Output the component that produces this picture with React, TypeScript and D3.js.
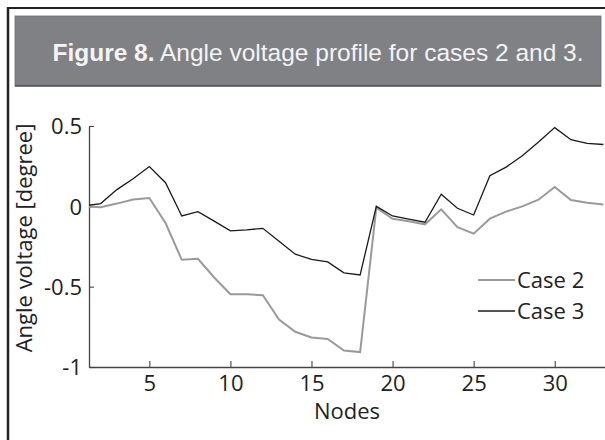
import React, { useEffect, useRef } from 'react';
import * as d3 from 'd3';

const nodes = d3.range(1, 34);
const case2 = [0, -0.005, 0.017, 0.043, 0.052, -0.104, -0.333, -0.327, -0.443, -0.547, -0.547, -0.553, -0.704, -0.781, -0.816, -0.826, -0.897, -0.907, -0.008, -0.077, -0.093, -0.112, -0.019, -0.13, -0.17, -0.077, -0.033, 0.0, 0.041, 0.12, 0.039, 0.023, 0.012];
const case3 = [0.003, 0.017, 0.104, 0.172, 0.248, 0.147, -0.06, -0.033, -0.092, -0.153, -0.147, -0.137, -0.218, -0.298, -0.33, -0.346, -0.414, -0.427, 0.0, -0.06, -0.08, -0.099, 0.075, -0.012, -0.054, 0.191, 0.244, 0.315, 0.4, 0.49, 0.415, 0.392, 0.385];
const xTicks = [5, 10, 15, 20, 25, 30];
const yTicks = [-1, -0.5, 0, 0.5];
const seriesNames = ['Case 2', 'Case 3'];

const W = 605;
const H = 440;
const tickFont = "'Open Sans', 'Noto Sans', sans-serif";
const fs = '22px';

const App = () => {
  const svgRef = useRef<SVGSVGElement>(null);

  useEffect(() => {
    const svg = d3.select(svgRef.current);
    svg.selectAll('*').remove();

    const left = 89, right = 605, top = 126, bottom = 367;

    // frame + header
    svg.append('rect').attr('x', 0).attr('y', 0).attr('width', W).attr('height', H).attr('fill', '#fff');
    svg.append('line').attr('x1', 8).attr('x2', 8).attr('y1', 7).attr('y2', H)
      .attr('stroke', '#222').attr('stroke-width', 2.5);
    svg.append('line').attr('x1', 7).attr('x2', W).attr('y1', 8).attr('y2', 8)
      .attr('stroke', '#222').attr('stroke-width', 2);
    svg.append('rect').attr('x', 15).attr('y', 16).attr('width', 586).attr('height', 70)
      .attr('fill', '#808185').attr('stroke', '#6a6b6e').attr('stroke-width', 0.8);
    svg.append('line').attr('x1', 15).attr('x2', 601).attr('y1', 86).attr('y2', 86)
      .attr('stroke', '#333').attr('stroke-width', 1.2);

    const title = svg.append('text').attr('x', 318).attr('y', 61)
      .attr('text-anchor', 'middle').attr('fill', '#f4f4f4')
      .style('font-family', "'Liberation Sans', Arial, sans-serif").style('font-size', '24.5px');
    title.append('tspan').attr('font-weight', 'bold').text('Figure 8.');
    title.append('tspan').text(' Angle voltage profile for cases 2 and 3.');

    const x = d3.scaleLinear().domain([1.28, 33.1]).range([left, right]);
    const y = d3.scaleLinear().domain([-1, 0.5]).range([bottom, top]);

    svg.append('clipPath').attr('id', 'plotclip').append('rect')
      .attr('x', left).attr('y', 0).attr('width', right - left).attr('height', H);

    const line = d3.line<number>().x((_, i) => x(nodes[i])).y(d => y(d));

    const xAxis = svg.append('g').attr('transform', `translate(0,${bottom})`)
      .call(d3.axisBottom(x).tickValues(xTicks).tickSizeInner(-6).tickSizeOuter(0).tickPadding(5).tickFormat(d => String(d)));
    const yAxis = svg.append('g').attr('transform', `translate(${left},0)`)
      .call(d3.axisLeft(y).tickValues(yTicks).tickSizeInner(-5).tickSizeOuter(0).tickPadding(7).tickFormat(d => String(d)));

    [xAxis, yAxis].forEach(g => {
      g.select('.domain').attr('stroke', '#444').attr('stroke-width', 1.3);
      g.selectAll('.tick line').attr('stroke', '#444').attr('stroke-width', 1.1);
      g.selectAll('.tick text').attr('fill', '#222').style('font-family', tickFont).style('font-size', fs);
    });
    xAxis.selectAll('.tick text').attr('dy', '0.85em');
    yAxis.selectAll('.tick text').attr('dy', '0.35em');

    const plot = svg.append('g').attr('clip-path', 'url(#plotclip)');
    plot.append('path').datum(case2).attr('d', line).attr('fill', 'none')
      .attr('stroke', '#9a9a9a').attr('stroke-width', 2);
    plot.append('path').datum(case3).attr('d', line).attr('fill', 'none')
      .attr('stroke', '#1a1a1a').attr('stroke-width', 1.3);

    svg.append('text').attr('x', (left + right) / 2).attr('y', 419)
      .attr('text-anchor', 'middle').attr('fill', '#222')
      .style('font-family', tickFont).style('font-size', fs).text('Nodes');

    svg.append('text').attr('transform', 'translate(32,238) rotate(-90)')
      .attr('text-anchor', 'middle').attr('fill', '#222')
      .style('font-family', tickFont).style('font-size', fs).text('Angle voltage [degree]');

    // legend
    const legendColors = ['#9a9a9a', '#1a1a1a'];
    const legendWidths = [2, 1.3];
    seriesNames.forEach((name, i) => {
      const ly = 280 + i * 31;
      svg.append('line').attr('x1', 478).attr('x2', 515).attr('y1', ly).attr('y2', ly)
        .attr('stroke', legendColors[i]).attr('stroke-width', legendWidths[i]);
      svg.append('text').attr('x', 517).attr('y', ly).attr('dy', '0.35em').attr('fill', '#222')
        .style('font-family', tickFont).style('font-size', fs).text(name);
    });
  }, []);

  return (
    <svg ref={svgRef} width={W} height={H} style={{ position: 'absolute', left: 0, top: 0 }} />
  );
};

export default App;
